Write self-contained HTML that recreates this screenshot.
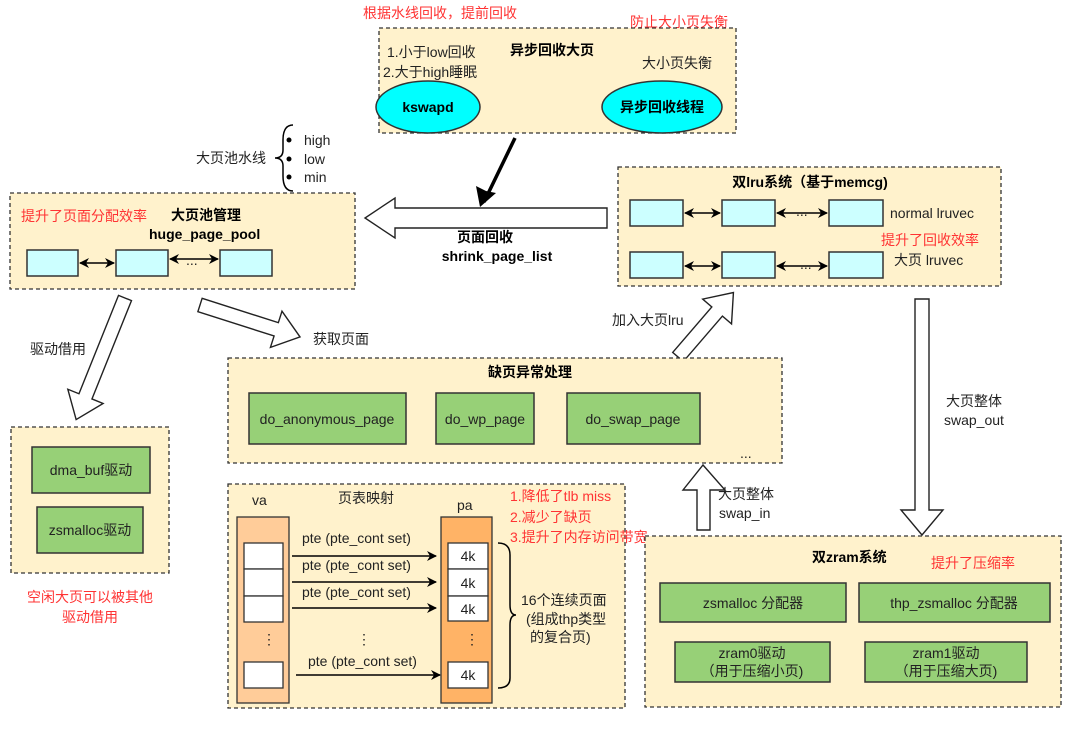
<!DOCTYPE html>
<html><head><meta charset="utf-8"><style>
html,body{margin:0;padding:0;background:#fff;}
svg{display:block;}
text{font-family:"Liberation Sans","Noto Sans CJK SC",sans-serif;font-size:14px;fill:#222;}
.b{font-weight:bold;fill:#000;}
.r{fill:#ff3333;}
.box{fill:#fff2cc;stroke:#333;stroke-width:1.3;stroke-dasharray:4,3;}
.c{fill:#ccffff;stroke:#333;stroke-width:1.5;}
.g{fill:#97d077;stroke:#333;stroke-width:1.5;}
.w{fill:#fff;stroke:#333;stroke-width:1.3;}
.ha{fill:#fff;stroke:#222;stroke-width:1.4;}
.ln{stroke:#000;stroke-width:1.5;fill:none;}
</style></head><body>
<svg width="1080" height="741" viewBox="0 0 1080 741" xmlns="http://www.w3.org/2000/svg">
<defs>
<marker id="ah" markerWidth="10" markerHeight="10" refX="9" refY="5" orient="auto" markerUnits="userSpaceOnUse"><path d="M0,0 L10,5 L0,10 L3,5 z" fill="#000"/></marker>
<marker id="as" markerWidth="10" markerHeight="10" refX="1" refY="5" orient="auto" markerUnits="userSpaceOnUse"><path d="M10,0 L0,5 L10,10 L7,5 z" fill="#000"/></marker>
</defs>

<!-- top box -->
<text x="363" y="18" class="r" font-size="15">根据水线回收，提前回收</text>
<text x="630" y="27" class="r" font-size="15">防止大小页失衡</text>
<rect x="379" y="28" width="357" height="105" class="box"/>
<text x="387" y="57">1.小于low回收</text>
<text x="383" y="77">2.大于high睡眠</text>
<text x="510" y="55" class="b">异步回收大页</text>
<text x="642" y="68">大小页失衡</text>
<ellipse cx="428" cy="107" rx="52" ry="26" fill="#00ffff" stroke="#333" stroke-width="1.5"/>
<text x="428" y="112" class="b" text-anchor="middle" font-size="15">kswapd</text>
<ellipse cx="662" cy="107" rx="60" ry="26" fill="#00ffff" stroke="#333" stroke-width="1.5"/>
<text x="662" y="112" class="b" text-anchor="middle" font-size="15">异步回收线程</text>

<!-- black arrow -->
<line x1="515" y1="138" x2="484" y2="202" stroke="#000" stroke-width="3.5"/>
<path d="M480,207 L476,186 L486,191 L496,193 z" fill="#000"/>

<!-- watermark -->
<text x="196" y="163">大页池水线</text>
<path d="M293,125 Q283,125 283,140 L283,150 Q283,158 275,158 Q283,158 283,166 L283,176 Q283,191 293,191" class="ln" stroke-width="1.3"/>
<circle cx="289" cy="140" r="2.5" fill="#000"/><circle cx="289" cy="159" r="2.5" fill="#000"/><circle cx="289" cy="177" r="2.5" fill="#000"/>
<text x="304" y="145">high</text><text x="304" y="164">low</text><text x="304" y="182">min</text>

<!-- pool -->
<rect x="10" y="193" width="345" height="96" class="box"/>
<text x="21" y="221" class="r">提升了页面分配效率</text>
<text x="171" y="220" class="b">大页池管理</text>
<text x="149" y="239" class="b">huge_page_pool</text>
<rect x="27" y="250" width="51" height="26" class="c"/>
<rect x="116" y="250" width="52" height="26" class="c"/>
<rect x="220" y="250" width="52" height="26" class="c"/>
<line x1="80" y1="263" x2="114" y2="263" class="ln" marker-end="url(#ah)" marker-start="url(#as)"/>
<line x1="170" y1="259" x2="218" y2="259" class="ln" marker-end="url(#ah)" marker-start="url(#as)"/>
<text x="186" y="265" font-size="11">...</text>

<!-- big left arrow -->
<polygon points="607,208 395,208 395,198 365,218 395,238 395,228 607,228" class="ha"/>
<text x="485" y="242" class="b" text-anchor="middle">页面回收</text>
<text x="497" y="261" class="b" text-anchor="middle">shrink_page_list</text>

<!-- lru -->
<rect x="618" y="167" width="383" height="119" class="box"/>
<text x="810" y="187" class="b" text-anchor="middle">双lru系统（基于memcg)</text>
<rect x="630" y="200" width="53" height="26" class="c"/>
<rect x="722" y="200" width="53" height="26" class="c"/>
<rect x="829" y="200" width="54" height="26" class="c"/>
<rect x="630" y="252" width="53" height="26" class="c"/>
<rect x="722" y="252" width="53" height="26" class="c"/>
<rect x="829" y="252" width="54" height="26" class="c"/>
<line x1="685" y1="213" x2="720" y2="213" class="ln" marker-end="url(#ah)" marker-start="url(#as)"/>
<line x1="777" y1="213" x2="827" y2="213" class="ln" marker-end="url(#ah)" marker-start="url(#as)"/>
<line x1="685" y1="266" x2="720" y2="266" class="ln" marker-end="url(#ah)" marker-start="url(#as)"/>
<line x1="777" y1="266" x2="827" y2="266" class="ln" marker-end="url(#ah)" marker-start="url(#as)"/>
<text x="796" y="216" font-size="11">...</text><text x="800" y="269" font-size="11">...</text>
<text x="890" y="218">normal lruvec</text>
<text x="881" y="245" class="r">提升了回收效率</text>
<text x="894" y="265">大页 lruvec</text>

<!-- hollow arrows -->
<g transform="translate(125,298) rotate(111.9)"><polygon points="0,-7 106,-7 106,-19 131,0 106,19 106,7 0,7" class="ha"/></g>
<text x="30" y="354">驱动借用</text>
<g transform="translate(200,305) rotate(17.7)"><polygon points="0,-7 80,-7 80,-19 105,0 80,19 80,7 0,7" class="ha"/></g>
<text x="313" y="344">获取页面</text>
<g transform="translate(678,357) rotate(-49.3)"><polygon points="0,-7 60,-7 60,-19 85,0 60,19 60,7 0,7" class="ha"/></g>
<text x="612" y="325">加入大页lru</text>
<polygon points="915,299 929,299 929,510 943,510 922,535 901,510 915,510" class="ha"/>
<text x="946" y="406">大页整体</text>
<text x="944" y="425">swap_out</text>
<polygon points="697,530 710,530 710,490 725,490 703,465 683,490 697,490" class="ha"/>
<text x="718" y="499">大页整体</text>
<text x="719" y="518">swap_in</text>

<!-- fault -->
<rect x="228" y="358" width="554" height="105" class="box"/>
<text x="530" y="377" class="b" text-anchor="middle">缺页异常处理</text>
<rect x="249" y="393" width="157" height="51" class="g"/>
<rect x="436" y="393" width="98" height="51" class="g"/>
<rect x="567" y="393" width="133" height="51" class="g"/>
<text x="327" y="424" text-anchor="middle">do_anonymous_page</text>
<text x="485" y="424" text-anchor="middle">do_wp_page</text>
<text x="633" y="424" text-anchor="middle">do_swap_page</text>
<text x="740" y="458" font-size="11">...</text>

<!-- dma -->
<rect x="11" y="427" width="158" height="146" class="box"/>
<rect x="32" y="447" width="118" height="46" class="g"/>
<rect x="37" y="507" width="106" height="46" class="g"/>
<text x="91" y="475" text-anchor="middle">dma_buf驱动</text>
<text x="90" y="535" text-anchor="middle">zsmalloc驱动</text>
<text x="90" y="602" class="r" text-anchor="middle">空闲大页可以被其他</text>
<text x="90" y="622" class="r" text-anchor="middle">驱动借用</text>

<!-- pte -->
<rect x="228" y="484" width="397" height="224" class="box"/>
<text x="252" y="505">va</text>
<text x="338" y="503">页表映射</text>
<text x="457" y="510">pa</text>
<text x="510" y="501" class="r">1.降低了tlb miss</text>
<text x="510" y="522" class="r">2.减少了缺页</text>
<text x="510" y="542" class="r">3.提升了内存访问带宽</text>
<rect x="237" y="517" width="52" height="186" fill="#ffcc99" stroke="#333" stroke-width="1.3"/>
<rect x="244" y="543" width="39" height="26" class="w"/>
<rect x="244" y="569" width="39" height="27" class="w"/>
<rect x="244" y="596" width="39" height="26" class="w"/>
<rect x="244" y="662" width="39" height="26" class="w"/>
<text x="262" y="644" font-size="11">⋮</text>
<rect x="441" y="517" width="51" height="186" fill="#ffb366" stroke="#333" stroke-width="1.3"/>
<rect x="448" y="543" width="40" height="26" class="w"/>
<rect x="448" y="569" width="40" height="27" class="w"/>
<rect x="448" y="596" width="40" height="25" class="w"/>
<rect x="448" y="662" width="40" height="26" class="w"/>
<text x="468" y="561" text-anchor="middle">4k</text>
<text x="468" y="588" text-anchor="middle">4k</text>
<text x="468" y="614" text-anchor="middle">4k</text>
<text x="468" y="680" text-anchor="middle">4k</text>
<text x="465" y="644" font-size="11">⋮</text>
<text x="357" y="644" font-size="11">⋮</text>
<text x="302" y="543">pte (pte_cont set)</text>
<text x="302" y="570">pte (pte_cont set)</text>
<text x="302" y="597">pte (pte_cont set)</text>
<text x="308" y="666">pte (pte_cont set)</text>
<line x1="292" y1="556" x2="436" y2="556" class="ln" marker-end="url(#ah)"/>
<line x1="292" y1="582" x2="436" y2="582" class="ln" marker-end="url(#ah)"/>
<line x1="292" y1="608" x2="436" y2="608" class="ln" marker-end="url(#ah)"/>
<line x1="296" y1="675" x2="440" y2="675" class="ln" marker-end="url(#ah)"/>
<path d="M498,543 Q510,543 510,555 L510,605 Q510,615 516,615 Q510,615 510,625 L510,678 Q510,688 498,688" class="ln" stroke-width="1.3"/>
<text x="521" y="605">16个连续页面</text>
<text x="526" y="624">(组成thp类型</text>
<text x="530" y="642">的复合页)</text>

<!-- zram -->
<rect x="645" y="536" width="416" height="171" class="box"/>
<text x="812" y="562" class="b">双zram系统</text>
<text x="931" y="568" class="r">提升了压缩率</text>
<rect x="660" y="583" width="186" height="39" class="g"/>
<rect x="859" y="583" width="191" height="39" class="g"/>
<rect x="675" y="642" width="155" height="40" class="g"/>
<rect x="865" y="642" width="162" height="40" class="g"/>
<text x="753" y="608" text-anchor="middle">zsmalloc 分配器</text>
<text x="954" y="608" text-anchor="middle">thp_zsmalloc 分配器</text>
<text x="752" y="658" text-anchor="middle">zram0驱动</text>
<text x="752" y="676" text-anchor="middle">（用于压缩小页)</text>
<text x="946" y="658" text-anchor="middle">zram1驱动</text>
<text x="946" y="676" text-anchor="middle">（用于压缩大页)</text>
</svg>
</body></html>
